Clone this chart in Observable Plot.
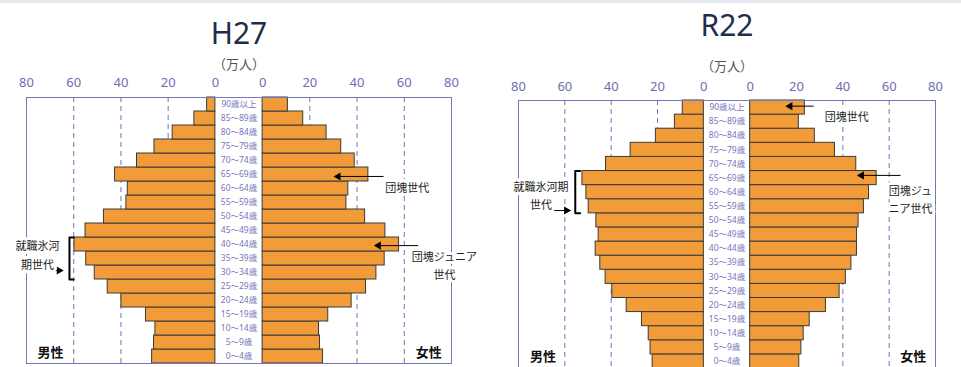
<!DOCTYPE html>
<html><head><meta charset="utf-8">
<script src="https://cdn.jsdelivr.net/npm/d3@7"></script>
<script src="https://cdn.jsdelivr.net/npm/@observablehq/plot@0.6"></script>
<style>
html,body{margin:0;padding:0;background:#fff;overflow:hidden;}
#wrap{position:relative;width:961px;height:367px;overflow:hidden;background:#fff;}
.topbar{position:absolute;left:0;top:0;width:961px;height:3px;background:#e4e8ef;}
.panel{position:absolute;top:0;}
</style></head>
<body>
<div id="wrap"><div class="topbar"></div><div id="p1" class="panel" style="left:0px"></div><div id="p2" class="panel" style="left:485px"></div></div>
<script>
// age groups, bottom (youngest) to top (oldest)
const ageGroups = ["0～4歳","5～9歳","10～14歳","15～19歳","20～24歳","25～29歳","30～34歳","35～39歳","40～44歳","45～49歳","50～54歳","55～59歳","60～64歳","65～69歳","70～74歳","75～79歳","80～84歳","85～89歳","90歳以上"];
const tickValues = [0, 20, 40, 60, 80];
const unitLabel = "（万人）";
const maleLabel = "男性";
const femaleLabel = "女性";

// H27 (万人)
const h27Male   = [26.8, 26.0, 25.4, 29.4, 39.8, 45.6, 51.1, 54.7, 59.7, 55.0, 47.2, 37.7, 37.1, 42.5, 33.2, 25.8, 18.1, 8.9, 3.5];
const h27Female = [25.6, 24.3, 23.9, 27.8, 37.7, 43.8, 48.2, 51.7, 57.8, 52.0, 43.4, 35.5, 36.3, 44.8, 39.0, 33.3, 27.1, 17.2, 10.7];
// R22 (万人)
const r22Male   = [22.1, 23.0, 23.8, 26.7, 33.3, 39.5, 42.4, 44.7, 46.7, 45.4, 46.4, 49.7, 50.7, 52.4, 42.2, 31.6, 20.7, 12.5, 9.1];
const r22Female = [21.2, 22.1, 23.1, 25.7, 32.7, 38.6, 41.3, 43.7, 46.1, 46.1, 46.8, 49.1, 51.3, 54.6, 45.8, 36.6, 27.9, 21.0, 23.6];

const G = 10; // half of central label gap, in axis units
const pos = (side, v) => side * (G + v);
const FONT = '"Noto Sans", "Noto Sans CJK JP", sans-serif';

function pyramid(cfg) {
  const bars = [];
  ageGroups.forEach((a, i) => {
    bars.push({side: -1, i, v: cfg.male[i]});
    bars.push({side: 1, i, v: cfg.female[i]});
  });
  const ticks = [];
  for (const s of [-1, 1]) for (const t of tickValues) ticks.push({x: pos(s, t), label: String(t)});
  const grid = [];
  for (const s of [-1, 1]) for (const t of tickValues) if (t > 0 && t < 80) grid.push(pos(s, t));

  const n = cfg.notes;
  return Plot.plot({
    width: cfg.width, height: cfg.height,
    marginLeft: cfg.marginLeft, marginRight: cfg.marginRight,
    marginTop: cfg.marginTop, marginBottom: cfg.marginBottom,
    x: {domain: [-(G + 80), G + 80], axis: null},
    y: {domain: [0, ageGroups.length], axis: null},
    style: {fontFamily: FONT, background: "transparent", overflow: "visible"},
    marks: [
      Plot.ruleX(grid, {stroke: "#7373b5", strokeDasharray: "5,4", strokeWidth: 1}),
      Plot.rect(bars, {x1: d => pos(d.side, 0), x2: d => pos(d.side, d.v), y1: d => d.i, y2: d => d.i + 1,
        fill: "#f19c38", stroke: "#3a3a3a", strokeWidth: 1}),
      Plot.frame({stroke: "#7878b8", strokeWidth: 1}),
      Plot.text(ageGroups, {x: 0, y: (d, i) => i + 0.5, text: d => d, fontSize: 8.5, fill: "#7676ba"}),
      Plot.text(ticks, {x: "x", text: "label", frameAnchor: "top", lineAnchor: "middle", dy: cfg.tickDy, fontSize: 13, fill: "#6d6db0"}),
      Plot.text([cfg.title], {x: 0, text: d => d, frameAnchor: "top", lineAnchor: "middle", dy: cfg.titleDy, fontSize: 30, fill: "#1f2d4b"}),
      Plot.text([unitLabel], {x: 0, text: d => d, frameAnchor: "top", lineAnchor: "middle", dy: cfg.unitDy, fontSize: 13, fill: "#555"}),
      // annotation brackets
      Plot.line(n.bracket, {x: "x", y: "y", stroke: "#000", strokeWidth: 2, curve: "linear"}),
      // annotation arrows
      Plot.link(n.arrows, {x1: "x1", x2: "x2", y1: "y", y2: "y", stroke: "#000", strokeWidth: 1}),
      Plot.dot(n.arrows, {x: "x2", y: "y", symbol: "triangle", r: 3, fill: "#000", stroke: null,
        rotate: d => d.x2 < d.x1 ? -90 : 90}),
      Plot.text(n.labels, {x: "x", y: "y", text: "text", fontSize: 11, lineHeight: 1.68, fill: "#222",
        stroke: "white", strokeWidth: 6}),
      Plot.text([maleLabel, femaleLabel], {x: (d, i) => i === 0 ? n.sex[0] : n.sex[1], y: n.sexY, text: d => d,
        fontSize: 13, fontWeight: "bold", fill: "#111"})
    ]
  });
}

const h27 = pyramid({
  title: "H27", male: h27Male, female: h27Female,
  width: 480, height: 367, marginLeft: 26, marginRight: 29, marginTop: 97, marginBottom: 4,
  titleDy: -63.5, unitDy: -33, tickDy: -15,
  notes: {
    labels: [
      {text: "団塊世代", x: 71.3, y: 12.66},
      {text: "団塊ジュニア\n世代", x: 87, y: 7.11},
      {text: "就職氷河\n期世代", x: -85.3, y: 7.84}
    ],
    arrows: [
      {x1: 61.2, x2: 42.0, y: 13.36},
      {x1: 75.9, x2: 59.1, y: 8.42},
      {x1: -84.1, x2: -76.2, y: 6.64}
    ],
    bracket: [{x: -70, y: 9}, {x: -71.8, y: 9}, {x: -71.8, y: 6}, {x: -70, y: 6}],
    sex: [-79.8, 80.4], sexY: 0.76
  }
});
const r22 = pyramid({
  title: "R22", male: r22Male, female: r22Female,
  width: 476, height: 372, marginLeft: 33, marginRight: 26, marginTop: 100, marginBottom: 4,
  titleDy: -74, unitDy: -34, tickDy: -14,
  notes: {
    labels: [
      {text: "団塊世代", x: 51.7, y: 17.94},
      {text: "団塊ジュ\nニア世代", x: 79.2, y: 12.09},
      {text: "就職氷河期\n世代", x: -80.3, y: 12.38}
    ],
    arrows: [
      {x1: 37.4, x2: 27.2, y: 18.6},
      {x1: 74.9, x2: 58.1, y: 13.69},
      {x1: -76.3, x2: -69.3, y: 11.2}
    ],
    bracket: [{x: -63.4, y: 14}, {x: -65.5, y: 14}, {x: -65.5, y: 11}, {x: -63.4, y: 11}],
    sex: [-79.4, 80.4], sexY: 0.85
  }
});
document.getElementById("p1").appendChild(h27);
document.getElementById("p2").appendChild(r22);
</script>
</body></html>
